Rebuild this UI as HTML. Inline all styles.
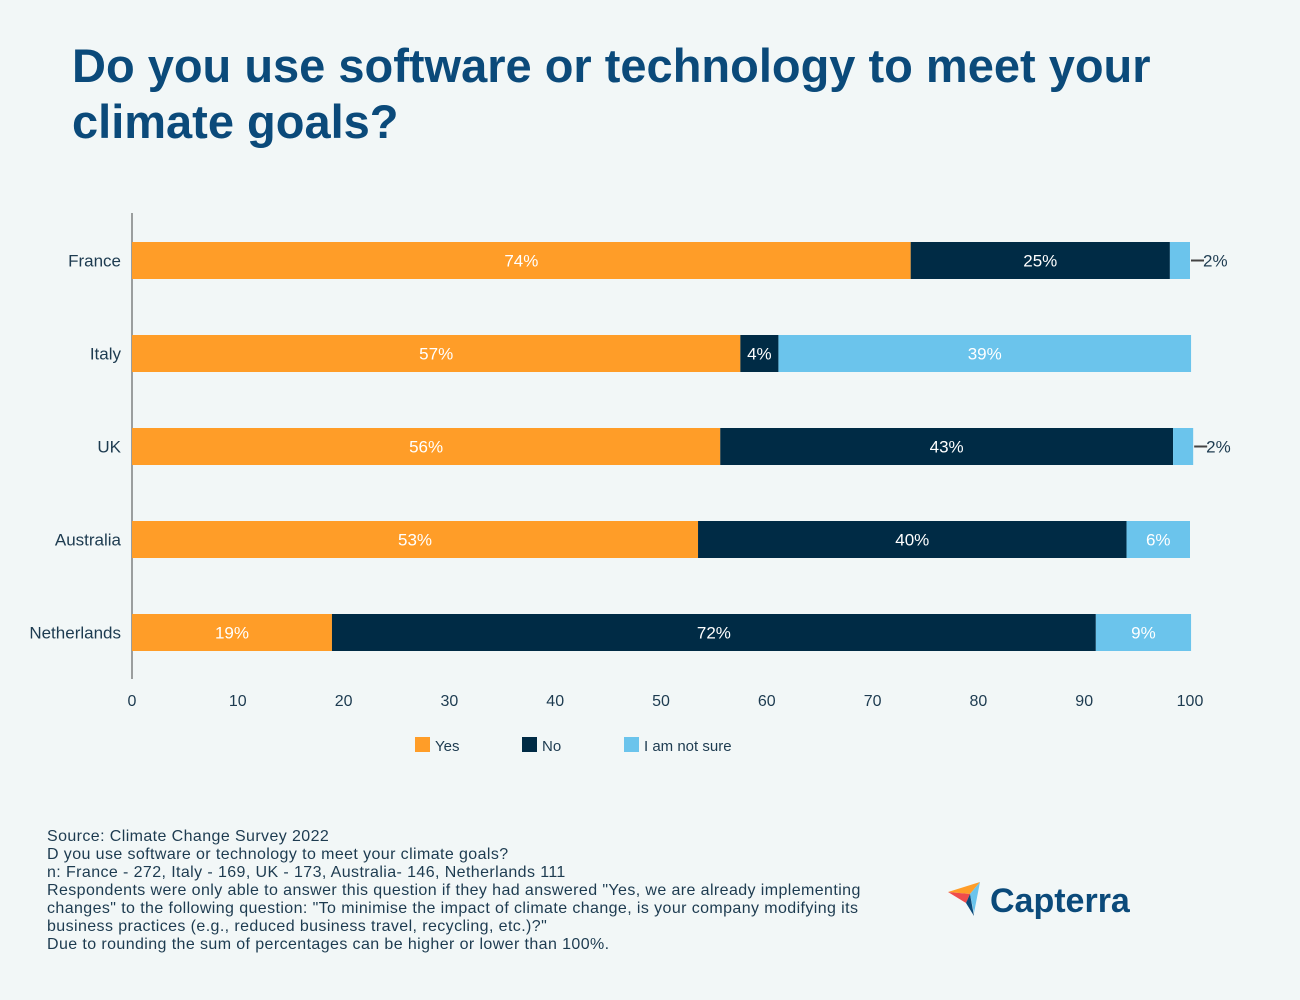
<!DOCTYPE html>
<html><head><meta charset="utf-8"><style>
body{margin:0;width:1300px;height:1000px;background:#f2f7f7;font-family:"Liberation Sans",sans-serif;overflow:hidden;position:relative}
h1{position:absolute;left:72px;top:38px;margin:0;font-size:47px;line-height:56px;color:#0b4a7a;font-weight:bold;width:1150px}
.notes{position:absolute;left:47px;top:828px;font-size:16px;letter-spacing:0.4px;line-height:18px;color:#1d3b50;width:900px;white-space:nowrap}
</style></head><body>
<h1>Do you use software or technology to meet your climate goals?</h1>
<svg id="chart" width="1300" height="800" style="position:absolute;left:0;top:0"></svg>
<div class="notes">Source: Climate Change Survey 2022<br>D you use software or technology to meet your climate goals?<br>n: France - 272, Italy - 169, UK - 173, Australia- 146, Netherlands 111<br>Respondents were only able to answer this question if they had answered "Yes, we are already implementing<br>changes" to the following question: "To minimise the impact of climate change, is your company modifying its<br>business practices (e.g., reduced business travel, recycling, etc.)?"<br>Due to rounding the sum of percentages can be higher or lower than 100%.</div>
<svg width="200" height="60" style="position:absolute;left:940px;top:870px">
<polygon points="8,22 40,12 30,24" fill="#ff9d28"/><polygon points="8,22 30,24 26,33" fill="#ef4c4c"/><polygon points="40,12 30,24 34,43 " fill="#6bc4ec"/><polygon points="30,24 26,33 34,46" fill="#0b4a7a"/>
<text x="50" y="42" font-family="Liberation Sans,sans-serif" font-size="34" font-weight="bold" fill="#0b4a7a">Capterra</text></svg>
<script>
const categories=["France","Italy","UK","Australia","Netherlands"];
const yesVals=[73.6,57.5,55.6,53.5,18.9];
const noVals=[24.5,3.6,42.8,40.5,72.2];
const unsureVals=[1.9,39.0,1.9,6.0,9.0];
const yesLabels=["74%","57%","56%","53%","19%"];
const noLabels=["25%","4%","43%","40%","72%"];
const unsureLabels=["2%","39%","2%","6%","9%"];
const ticks=[0,10,20,30,40,50,60,70,80,90,100];
const NS="http://www.w3.org/2000/svg";
const svg=document.getElementById('chart');
const x=v=>132+v*10.58;
const y=i=>242+i*93;
const BH=37;
function mk(t,a,txt){const e=document.createElementNS(NS,t);for(const k in a)e.setAttribute(k,a[k]);if(txt!==undefined)e.textContent=txt;svg.appendChild(e);return e;}
let ax=mk('line',{x1:132,y1:213,x2:132,y2:679,stroke:'#444','stroke-width':1});


ticks.forEach(t=>{const e=mk('text',{x:x(t),y:706,'text-anchor':'middle','font-size':16,fill:'#1d3b50'},t);

});
const series=[[yesVals,yesLabels,'#ff9d28','#fff','yes'],[noVals,noLabels,'#002b45','#fff','no'],[unsureVals,unsureLabels,'#6bc4ec','#fff','unsure']];
categories.forEach((c,i)=>{
 const l=mk('text',{x:121,y:y(i)+BH/2+6,'text-anchor':'end','font-size':17,fill:'#1d3b50'},c);
 
 
 let acc=0;
 series.forEach(s=>{
  const v=s[0][i];
  const r=mk('rect',{x:x(acc),y:y(i),width:v*10.58,height:BH,fill:s[2]});
  
  
  if(v>=3){const t=mk('text',{x:x(acc+v/2),y:y(i)+BH/2+6,'text-anchor':'middle','font-size':17,fill:s[3]},s[1][i]);
   
   }
  else{const ex=x(acc+v);
   mk('line',{x1:ex+1,y1:y(i)+BH/2,x2:ex+14,y2:y(i)+BH/2,stroke:'#444','stroke-width':2});
   const t=mk('text',{x:ex+13,y:y(i)+BH/2+6,'font-size':17,fill:'#1d3b50'},s[1][i]);
   
   }
  acc+=v;
 });
});
const leg=[["Yes",'#ff9d28',415],["No",'#002b45',522],["I am not sure",'#6bc4ec',624]];
leg.forEach(l=>{const r=mk('rect',{x:l[2],y:737,width:15,height:15,fill:l[1]});


const t=mk('text',{x:l[2]+20,y:751,'font-size':15,fill:'#1d3b50'},l[0]);

});
</script>
</body></html>
